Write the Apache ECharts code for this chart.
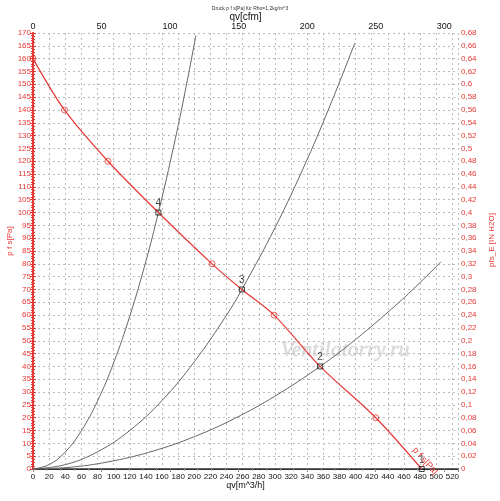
<!DOCTYPE html>
<html>
<head>
<meta charset="utf-8">
<script src="https://cdn.jsdelivr.net/npm/echarts@6/dist/echarts.min.js"></script>
<style>
  html, body { margin: 0; padding: 0; background: #fff; }
  #main { width: 500px; height: 501px; }
</style>
</head>
<body>
<div id="main"></div>
<script>
// fan curve p f s [Pa] over qv [m^3/h]
const fanFlow = [0, 39, 93, 155.5, 222, 259, 299, 356, 425, 482];
const fanPressure = [160, 140, 120, 100, 80, 70, 60, 40, 20, 0];

// measured points (circles)
const pointFlow = [0, 39, 93, 222, 299, 425];
const pointPressure = [160, 140, 120, 80, 60, 20];

// operating points (squares)
const opFlow = [482, 356, 259, 155.5];
const opPressure = [0, 40, 70, 100];
const opLabels = ['1', '2', '3', '4'];

// system curves
const sys4Flow = [0, 20, 40, 60, 80, 100, 120, 140, 155.5, 170, 186, 202];
const sys4Pressure = [0, 1.7, 6.6, 14.9, 26.5, 41.4, 59.6, 81, 100, 119.5, 143, 169];
const sys3Flow = [0, 40, 80, 120, 160, 200, 240, 259, 300, 340, 370, 399];
const sys3Pressure = [0, 1.7, 6.7, 15, 26.7, 41.8, 60, 70, 94, 120.7, 143, 166];
const sys2Flow = [0, 50, 100, 150, 200, 250, 300, 356, 400, 450, 480, 506];
const sys2Pressure = [0, 0.8, 3.2, 7.1, 12.6, 19.7, 28.4, 40, 50.5, 63.9, 72.7, 80.8];

const red = '#e53935';
const font = 'Liberation Sans';

const pairs = (xs, ys) => xs.map((x, i) => [x, ys[i]]);

const chart = echarts.init(document.getElementById('main'));

const gridLine = { show: true, lineStyle: { color: '#bbb', type: [2, 3], width: 1 } };

const option = {
  animation: false,
  textStyle: { fontFamily: font },
  title: {
    text: 'Druck p f s[Pa] für Rho=1,2kg/m^3',
    left: 'center',
    top: 1,
    textStyle: { fontSize: 5, fontWeight: 'normal', color: '#333', fontFamily: font }
  },
  grid: { left: 33, top: 33, right: 42, bottom: 32, containLabel: false, outerBoundsMode: 'none' },
  xAxis: [
    {
      type: 'value',
      position: 'bottom',
      min: 0,
      max: 527,
      interval: 20,
      name: 'qv[m^3/h]',
      nameLocation: 'middle',
      nameGap: 12,
      nameMoveOverlap: false,
      nameTextStyle: { fontSize: 9, color: '#111', verticalAlign: 'top' },
      axisLine: { show: true, lineStyle: { color: '#333', width: 1 } },
      axisTick: { show: false },
      axisLabel: { fontSize: 8, color: '#111', margin: 4, showMaxLabel: false },
      splitLine: gridLine
    },
    {
      type: 'value',
      position: 'top',
      min: 0,
      max: 310,
      interval: 50,
      name: 'qv[cfm]',
      nameLocation: 'middle',
      nameGap: 11,
      nameMoveOverlap: false,
      nameTextStyle: { fontSize: 10, color: '#111', verticalAlign: 'bottom' },
      axisLine: { show: true, lineStyle: { color: '#333', width: 1.5 } },
      axisTick: { show: true, inside: true, length: 3, lineStyle: { color: '#888' } },
      minorTick: { show: true, splitNumber: 5, length: 2, lineStyle: { color: '#aaa' } },
      axisLabel: { fontSize: 9, color: '#111', margin: 2, showMaxLabel: false },
      splitLine: { show: false }
    }
  ],
  yAxis: [
    {
      type: 'value',
      position: 'left',
      min: 0,
      max: 170,
      interval: 5,
      name: 'p f s[Pa]',
      nameLocation: 'middle',
      nameGap: 19,
      nameMoveOverlap: false,
      nameTextStyle: { fontSize: 8, color: red, padding: [0, 0, 0, 20] },
      axisLine: { show: true, lineStyle: { color: red, width: 1.5 } },
      axisTick: { show: true, length: 3, lineStyle: { color: red } },
      minorTick: { show: true, splitNumber: 5, length: 2, lineStyle: { color: red } },
      axisLabel: { fontSize: 8, color: red, margin: 2 },
      splitLine: gridLine
    },
    {
      type: 'value',
      position: 'right',
      min: 0,
      max: 0.68,
      interval: 0.02,
      name: 'pfs_E [IN H2O]',
      nameLocation: 'middle',
      nameGap: 30,
      nameMoveOverlap: false,
      nameTextStyle: { fontSize: 8, color: red, padding: [0, 0, 0, 22] },
      axisLine: { show: true, lineStyle: { color: red, width: 2 } },
      axisTick: { show: true, length: 3, lineStyle: { color: red } },
      minorTick: { show: true, splitNumber: 4, length: 2, lineStyle: { color: red } },
      axisLabel: {
        fontSize: 8,
        color: red,
        margin: 3,
        formatter: v => String(+v.toFixed(2)).replace('.', ',')
      },
      splitLine: { show: false }
    }
  ],
  graphic: [
    {
      type: 'text',
      x: 345,
      y: 350,
      style: {
        text: 'Ventilatorry.ru',
        font: 'italic 22px "Liberation Serif"',
        fill: 'rgba(215,215,215,0.9)',
        stroke: 'rgba(180,180,180,0.5)',
        lineWidth: 0.5,
        textAlign: 'center',
        textVerticalAlign: 'middle'
      },
      z: 0
    },
    {
      type: 'text',
      x: 425,
      y: 461,
      rotation: -0.84,
      style: {
        text: 'p f s[Pa]',
        font: '9px "Liberation Sans"',
        fill: red,
        textAlign: 'center',
        textVerticalAlign: 'middle'
      },
      z: 10
    }
  ],
  series: [
    {
      type: 'line',
      data: pairs(sys4Flow, sys4Pressure),
      smooth: 0.4,
      showSymbol: false,
      lineStyle: { color: '#666', width: 1 },
      z: 2
    },
    {
      type: 'line',
      data: pairs(sys3Flow, sys3Pressure),
      smooth: 0.4,
      showSymbol: false,
      lineStyle: { color: '#666', width: 1 },
      z: 2
    },
    {
      type: 'line',
      data: pairs(sys2Flow, sys2Pressure),
      smooth: 0.4,
      showSymbol: false,
      lineStyle: { color: '#666', width: 1 },
      z: 2
    },
    {
      type: 'line',
      data: pairs(fanFlow, fanPressure),
      smooth: 0.3,
      showSymbol: false,
      lineStyle: { color: red, width: 1.2 },
      z: 3
    },
    {
      type: 'scatter',
      data: pairs(pointFlow, pointPressure),
      symbol: 'circle',
      symbolSize: 6,
      itemStyle: { color: 'rgba(255,255,255,0)', borderColor: red, borderWidth: 1 },
      z: 4
    },
    {
      type: 'scatter',
      data: opFlow.map((x, i) => ({ value: [x, opPressure[i]], name: opLabels[i] })),
      symbol: 'rect',
      symbolSize: 5,
      itemStyle: { color: 'rgba(255,255,255,0)', borderColor: '#111', borderWidth: 1 },
      label: {
        show: true,
        position: 'top',
        distance: 1,
        formatter: p => p.name,
        fontSize: 10,
        color: '#111'
      },
      z: 5
    }
  ]
};

option && chart.setOption(option);
</script>
</body>
</html>
